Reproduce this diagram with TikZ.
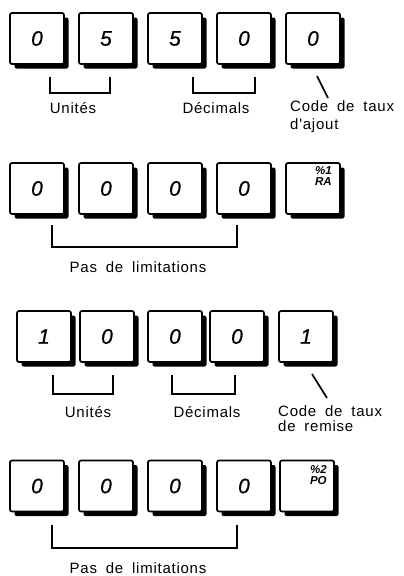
\documentclass[tikz,border=0pt]{standalone}
\usepackage{fontspec}
\setmainfont{Liberation Sans}
\newfontfamily\lblfont[LetterSpace=5,WordSpace=1.8]{Liberation Sans}
\newfontfamily\keyfont[ItalicFeatures={FakeBold=0.6}]{Liberation Sans}
\usetikzlibrary{positioning,shadows}
\tikzset{
  key/.style={draw,line width=1.7pt,fill=white,rounded corners=2pt,inner sep=0pt,
    minimum width=54pt,minimum height=51pt,
    drop shadow={shadow xshift=4.5pt,shadow yshift=-4.5pt,fill=black,opacity=1},
    font=\fontsize{21}{21}\selectfont\keyfont\itshape},
  fkey/.style={align=right,inner sep=0pt,font=\fontsize{11.5}{11}\selectfont\bfseries\itshape},
  brk/.style={line width=1.7pt},
  lbl/.style={inner sep=0pt,font=\fontsize{15}{15}\selectfont\lblfont},
  lbl2/.style={lbl,align=left,anchor=north west}
}
\begin{document}
\begin{tikzpicture}[x=1pt,y=-1pt]
\useasboundingbox (0,0) rectangle (404,576);
% ajout: 05 50 0
\foreach \n/\x/\d in {1/37/0,2/106/5,3/175/5,4/244/0,5/313/0}
  \node[key] (a\n) at (\x,38.5) {\d};
\coordinate (au1) at (50,77); \coordinate (au2) at (110,77);
\coordinate (ad1) at (193,77); \coordinate (ad2) at (255,77);
\coordinate (as1) at (317,76); \coordinate (as2) at (328,98);
\draw[brk] (au1) -- ++(0,16) -| (au2);
\draw[brk] (ad1) -- ++(0,16) -| (ad2);
\draw[brk] (as1) -- (as2);
\node[lbl] (aut) at (73,108) {Unités};
\node[lbl] (adt) at (216,108) {Décimals};
\node[lbl2] (act) at (290,100) {Code de taux\\[3pt]d'ajout};
% RA: 0000
\foreach \n/\x/\d in {1/37/0,2/106/0,3/175/0,4/244/0,5/313/{}}
  \node[key] (b\n) at (\x,188.5) {\d};
\node[fkey,below left=4pt and 9pt of b5.north east] (bf) {\%1\\RA};
\coordinate (bb1) at (52,225); \coordinate (bb2) at (237,225);
\draw[brk] (bb1) -- ++(0,22) -| (bb2);
\node[lbl] (bpt) at (138,267) {Pas de limitations};
% remise: 10 00 1
\foreach \n/\x/\d in {1/44/1,2/107/0,3/175/0,4/237/0,5/306/1}
  \node[key] (c\n) at (\x,336.5) {\d};
\coordinate (cu1) at (53,375); \coordinate (cu2) at (113,375);
\coordinate (cd1) at (172,375); \coordinate (cd2) at (235,375);
\coordinate (cs1) at (312,374); \coordinate (cs2) at (327,398);
\draw[brk] (cu1) -- ++(0,19) -| (cu2);
\draw[brk] (cd1) -- ++(0,19) -| (cd2);
\draw[brk] (cs1) -- (cs2);
\node[lbl] (cut) at (88,412) {Unités};
\node[lbl] (cdt) at (207,412) {Décimals};
\node[lbl2] (cct) at (278,405) {Code de taux\\[0pt]de remise};
% PO: 0000
\foreach \n/\x/\d in {1/37/0,2/106/0,3/175/0,4/244/0,5/307/{}}
  \node[key] (d\n) at (\x,486) {\d};
\node[fkey,below left=6pt and 8pt of d5.north east] (df) {\%2\\PO};
\coordinate (db1) at (52,525); \coordinate (db2) at (237,525);
\draw[brk] (db1) -- ++(0,23) -| (db2);
\node[lbl] (dpt) at (138,568) {Pas de limitations};
\end{tikzpicture}
\end{document}
